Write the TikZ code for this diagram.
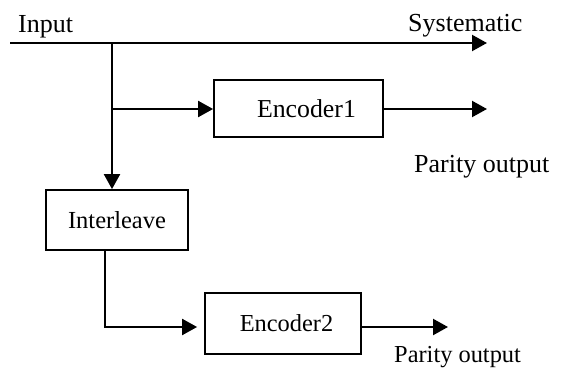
\documentclass[tikz,border=0pt]{standalone}
\usepackage{fontspec}
\setmainfont{Liberation Serif}
\usetikzlibrary{arrows.meta}
\tikzset{
  blk/.style={draw=black, line width=1.8pt, inner sep=0pt},
  sig/.style={line width=2.2pt, -{Triangle[length=15pt,width=16pt]}},
  lbl/.style={inner sep=0pt, anchor=base west, font=\fontsize{26}{30}\selectfont},
  lbltwo/.style={inner sep=0pt, anchor=base west, font=\fontsize{24.4}{28}\selectfont}
}
\begin{document}
\begin{tikzpicture}[x=1pt,y=-1pt]
\useasboundingbox (0,0) rectangle (567,367);
% boxes
\node [blk, minimum width=169pt, minimum height=57pt, font=\fontsize{25.8}{30}\selectfont] (enc1) at (298.5,108.5) {\hspace{16pt}Encoder1};
\node [blk, minimum width=142pt, minimum height=60pt, font=\fontsize{24.5}{28}\selectfont] (inter) at (117,220) {Interleave};
\node [blk, minimum width=156pt, minimum height=61pt, font=\fontsize{24.4}{28}\selectfont] (enc2) at (283,323.5) {\hspace{7pt}Encoder2};
% labels
\node [lbl] (inlbl) at (18,32) {Input};
\node [lbl] (syslbl) at (408,31) {Systematic};
\node [lbl] (par1) at (414,172) {Parity output};
\node [lbltwo] (par2) at (394,362) {Parity output};
% points
\coordinate (in) at (10,43);
\coordinate (sys) at (487,43);
\coordinate (j1) at (112,43);
\coordinate (j2) at (112,109);
\coordinate (p1) at (487,109);
\coordinate (j3) at (105,327);
\coordinate (p2) at (448,327);
% connectors
\draw [sig] (in) -- (sys);
\draw [sig] (j1) -- (j1 |- inter.north);
\draw [sig] (j2) -- (j2 -| enc1.west);
\draw [sig] (p1 -| enc1.east) -- (p1);
\draw [sig, shorten >=7pt] (j3 |- inter.south) -- (j3) -- (j3 -| enc2.west);
\draw [sig] (p2 -| enc2.east) -- (p2);
\end{tikzpicture}
\end{document}
